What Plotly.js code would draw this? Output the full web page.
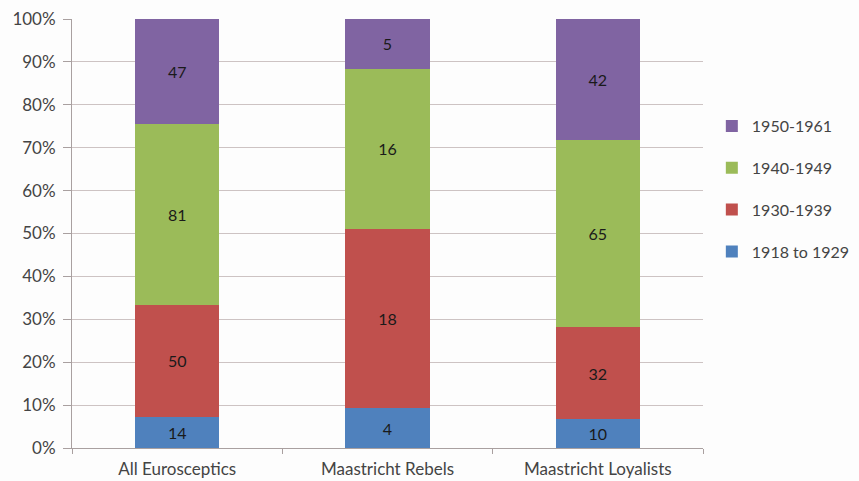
<!DOCTYPE html>
<html>
<head>
<meta charset="utf-8">
<script src="https://cdn.plot.ly/plotly-3.0.1.min.js"></script>
<style>html,body{margin:0;padding:0;background:#fdfdfd;}#chart{width:859px;height:481px;}</style>
</head>
<body>
<div id="chart"></div>
<script>
const categories = ["All Eurosceptics", "Maastricht Rebels", "Maastricht Loyalists"];
const seriesNames = ["1918 to 1929", "1930-1939", "1940-1949", "1950-1961"];
const v1918 = [14, 4, 10];
const v1930 = [50, 18, 32];
const v1940 = [81, 16, 65];
const v1950 = [47, 5, 42];
const yTicks = [0, 10, 20, 30, 40, 50, 60, 70, 80, 90, 100];

const colors = ["#4F81BD", "#C0504D", "#9BBB59", "#8064A2"];
const allValues = [v1918, v1930, v1940, v1950];

const traces = allValues.map((vals, i) => ({
  type: "bar",
  name: seriesNames[i],
  x: categories,
  y: vals,
  text: vals.map(String),
  texttemplate: "%{text}",
  textposition: "inside",
  insidetextanchor: "middle",
  textangle: 0,
  textfont: {family: "Lato, 'Open Sans', sans-serif", size: 16, color: "#1a1a1a"},
  marker: {color: colors[i], line: {width: 0}},
  legendgroup: "g" + i,
  legendrank: 10 - i,
  hoverinfo: "skip"
}));

const layout = {
  width: 859, height: 481,
  margin: {l: 72, r: 156, t: 19, b: 33, autoexpand: false},
  paper_bgcolor: "#fdfdfd",
  plot_bgcolor: "#fdfdfd",
  barmode: "stack",
  barnorm: "percent",
  bargap: 0.6,
  font: {family: "Lato, 'Open Sans', sans-serif", size: 17, color: "#444"},
  showlegend: true,
  legend: {
    x: 1.014, xanchor: "left", y: 0.79, yanchor: "top",
    traceorder: "grouped",
    tracegroupgap: 18,
    font: {size: 16, color: "#444"},
    itemwidth: 30,
    bgcolor: "rgba(0,0,0,0)"
  },
  xaxis: {
    type: "category",
    showline: true, linecolor: "#a9a0a0", linewidth: 1,
    ticks: "outside", tickson: "boundaries", ticklen: 5, tickcolor: "#a9a0a0",
    ticklabelstandoff: 6,
    showgrid: false,
    tickfont: {size: 17, color: "#444"}
  },
  yaxis: {
    range: [0, 100],
    tickvals: yTicks,
    ticktext: yTicks.map(t => t + "%"),
    showline: true, linecolor: "#a9a0a0", linewidth: 1,
    ticks: "outside", ticklen: 8, tickcolor: "#a9a0a0",
    ticklabelstandoff: 4,
    showgrid: true, gridcolor: "#cdc3c3", gridwidth: 1,
    zeroline: false,
    tickfont: {size: 17, color: "#444"}
  }
};

Plotly.newPlot("chart", traces, layout, {displayModeBar: false, staticPlot: true});
</script>
</body>
</html>
